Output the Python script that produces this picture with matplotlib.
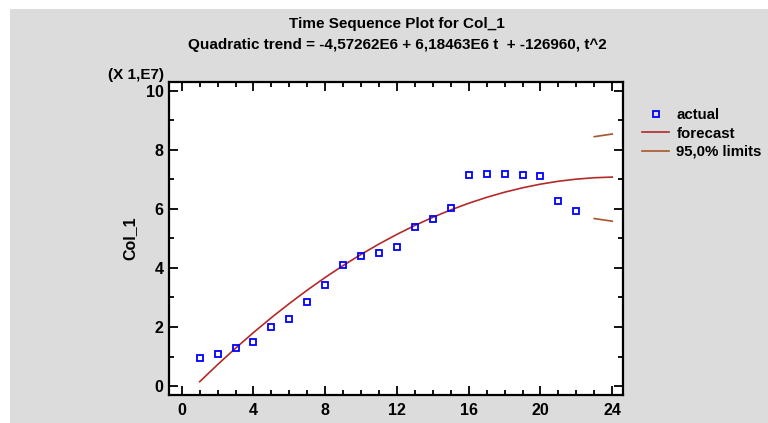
import matplotlib.pyplot as plt
from matplotlib.patches import Rectangle
from matplotlib.ticker import MultipleLocator

plt.rcParams['font.family'] = ['Liberation Sans', 'DejaVu Sans']
plt.rcParams['font.weight'] = 'bold'

t = list(range(1, 23))
actual = [0.96, 1.09, 1.28, 1.49, 1.99, 2.26, 2.84, 3.42, 4.10, 4.40, 4.50,
          4.72, 5.38, 5.67, 6.03, 7.14, 7.19, 7.19, 7.14, 7.10, 6.25, 5.94]

t_fc = list(range(1, 25))
forecast = [0.149, 0.729, 1.284, 1.813, 2.318, 2.796, 3.250, 3.678, 4.081,
            4.458, 4.810, 5.136, 5.437, 5.713, 5.963, 6.188, 6.387, 6.562,
            6.710, 6.834, 6.932, 7.004, 7.051, 7.073]

t_lim = [23, 24]
upper = [8.44, 8.53]
lower = [5.67, 5.58]

fig = plt.figure(figsize=(7.68, 4.23), dpi=100, facecolor='white')
fig.patches.append(Rectangle((10 / 768, 0), 1, 1 - 9 / 423, transform=fig.transFigure,
                             facecolor='#dcdcdc', edgecolor='none', zorder=-10))

ax = fig.add_axes([169 / 768, 1 - 395 / 423, (623 - 169) / 768, (395 - 82) / 423])
ax.set_facecolor('white')

ax.plot(t, actual, linestyle='none', marker='s', markersize=4.8, markerfacecolor='none',
        markeredgecolor='#0000ff', markeredgewidth=1.3, label='actual', zorder=3)
ax.plot(t_fc, forecast, color='#b22a2a', linewidth=1.2, label='forecast')
ax.plot(t_lim, upper, color='#a8552a', linewidth=1.2, label='95,0% limits')
ax.plot(t_lim, lower, color='#a8552a', linewidth=1.2)

ax.set_xlim(-0.71, 24.6)
ax.set_ylim(-0.3, 10.29)
ax.xaxis.set_major_locator(MultipleLocator(4))
ax.xaxis.set_minor_locator(MultipleLocator(1))
ax.yaxis.set_major_locator(MultipleLocator(2))
ax.yaxis.set_minor_locator(MultipleLocator(1))
ax.tick_params(which='both', direction='in', top=True, right=True, width=1.3, labelsize=11.5)
ax.tick_params(which='major', length=6.5)
ax.tick_params(which='minor', length=3.5)
ax.tick_params(axis='x', pad=6)
ax.tick_params(axis='y', pad=4)
for s in ax.spines.values():
    s.set_linewidth(1.6)

fig.text(397 / 768, 1 - 24 / 423, 'Time Sequence Plot for Col_1', ha='center', va='center',
         fontsize=11, fontweight='bold')
fig.text(397 / 768, 1 - 45 / 423,
         'Quadratic trend = -4,57262E6 + 6,18463E6 t  + -126960, t^2',
         ha='center', va='center', fontsize=11, fontweight='bold')
fig.text(136 / 768, 1 - 75 / 423, '(X 1,E7)', ha='center', va='center',
         fontsize=11, fontweight='bold')
fig.text(130 / 768, 1 - 238 / 423, 'Col_1', ha='center', va='center', rotation=90,
         fontsize=11.5, fontweight='bold')

handles, labels = ax.get_legend_handles_labels()
fig.legend(handles, labels, loc='upper left', bbox_to_anchor=(636 / 768, 1 - 102 / 423),
           frameon=False, fontsize=10.8, handlelength=1.8, handletextpad=0.5,
           labelspacing=0.3, borderaxespad=0)

fig.savefig('out.png', dpi=100, facecolor=fig.get_facecolor())
